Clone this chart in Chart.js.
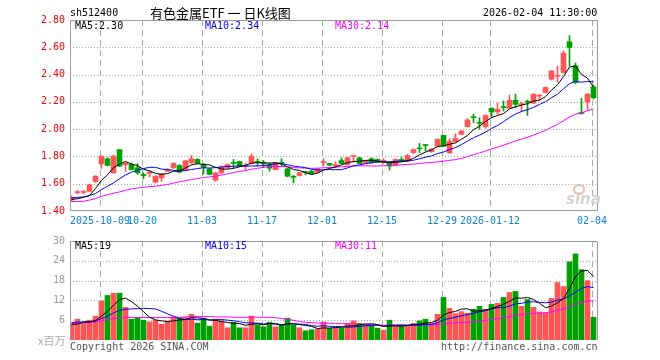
<!DOCTYPE html>
<html lang="zh-CN">
<head>
    <meta charset="UTF-8">
    <title>有色金属ETF 日K线图</title>
    <style>
        body {
            margin: 0;
            background: #fff;
        }

        #wrap {
            position: relative;
            width: 660px;
            height: 360px;
            overflow: hidden;
            font-family: "DejaVu Sans Mono", monospace;
            font-size: 10px;
            color: #000;
        }

        #wrap canvas {
            position: absolute;
            left: 0;
        }

        .txt {
            position: absolute;
            line-height: 12px;
            white-space: nowrap;
        }

        .title {
            font-family: "Noto Sans CJK SC", sans-serif;
            font-size: 13px;
            line-height: 16px;
        }

        .sina {
            font-family: "DejaVu Sans", sans-serif;
            font-style: italic;
            font-weight: bold;
            font-size: 15px;
            color: #d2d2d2;
            line-height: 16px;
        }
    </style>
</head>
<body>
    <div id="wrap">
        <canvas id="priceCanvas" width="660" height="232" style="top:0"></canvas>
        <canvas id="volCanvas" width="660" height="130" style="top:230px"></canvas>

        <div class="txt" style="left:70px;top:7px">sh512400</div>
        <div class="txt title" style="left:150px;top:5px">有色金属ETF 一 日K线图</div>
        <div class="txt" style="left:483px;top:7px">2026-02-04 11:30:00</div>

        <div class="txt" style="left:75px;top:20px">MA5:2.30</div>
        <div class="txt" style="left:205px;top:20px;color:#0000ff">MA10:2.34</div>
        <div class="txt" style="left:335px;top:20px;color:#ff00ff">MA30:2.14</div>

        <div class="txt sina" style="left:566px;top:191px">sina</div>
        <div style="position:absolute;left:573px;top:184px;width:8px;height:7px;border:2px solid #f2b8b8;border-radius:50%"></div>

        <div class="txt" style="left:75px;top:240px">MA5:19</div>
        <div class="txt" style="left:205px;top:240px;color:#0000ff">MA10:15</div>
        <div class="txt" style="left:335px;top:240px;color:#ff00ff">MA30:11</div>

        <div class="txt" style="left:38px;top:334px;color:#aaa;font-family:'Noto Sans CJK SC',sans-serif;font-size:11px">x百万</div>
        <div class="txt" style="left:70px;top:341px;color:#555">Copyright 2026 SINA.COM</div>
        <div class="txt" style="left:441px;top:341px;color:#555">http://finance.sina.com.cn</div>
    </div>

    <script src="https://cdn.jsdelivr.net/npm/chart.js"></script>
    <script>
        // daily candles, 2025-09-24 .. 2026-02-04 (88 trading days)
        const opens = [
            1.48, 1.535, 1.536, 1.545, 1.616, 1.746, 1.783, 1.68, 1.85, 1.74,
            1.741, 1.717, 1.665, 1.676, 1.611, 1.643, 1.692, 1.717, 1.734, 1.70,
            1.753, 1.778, 1.74, 1.709, 1.626, 1.68, 1.717, 1.75, 1.763, 1.73,
            1.749, 1.76, 1.75, 1.739, 1.704, 1.752, 1.709, 1.65, 1.66, 1.682,
            1.692, 1.685, 1.755, 1.748, 1.734, 1.77, 1.741, 1.80, 1.79, 1.753,
            1.783, 1.778, 1.764, 1.758, 1.734, 1.778, 1.766, 1.827, 1.857, 1.882,
            1.835, 1.876, 1.954, 1.827, 1.908, 1.962, 2.018, 2.086, 2.045, 2.018,
            2.153, 2.126, 2.16, 2.153, 2.211, 2.18, 2.20, 2.19, 2.242, 2.268,
            2.366, 2.388, 2.415, 2.64, 2.464, 2.12, 2.199, 2.31
        ];
        const highs = [
            1.51, 1.55, 1.55, 1.595, 1.66, 1.805, 1.79, 1.81, 1.85, 1.755,
            1.753, 1.748, 1.68, 1.692, 1.66, 1.675, 1.71, 1.755, 1.74, 1.77,
            1.807, 1.785, 1.75, 1.712, 1.685, 1.73, 1.745, 1.778, 1.766, 1.75,
            1.817, 1.782, 1.77, 1.753, 1.757, 1.783, 1.712, 1.66, 1.683, 1.692,
            1.70, 1.712, 1.783, 1.75, 1.76, 1.79, 1.795, 1.803, 1.795, 1.77,
            1.79, 1.782, 1.785, 1.76, 1.782, 1.795, 1.815, 1.855, 1.895, 1.888,
            1.856, 1.93, 1.955, 1.93, 1.967, 1.99, 2.077, 2.109, 2.084, 2.105,
            2.156, 2.19, 2.207, 2.25, 2.256, 2.199, 2.214, 2.26, 2.256, 2.31,
            2.43, 2.46, 2.574, 2.685, 2.484, 2.226, 2.262, 2.32
        ];
        const lows = [
            1.47, 1.525, 1.525, 1.54, 1.61, 1.712, 1.73, 1.675, 1.725, 1.69,
            1.70, 1.668, 1.635, 1.65, 1.605, 1.618, 1.69, 1.71, 1.68, 1.695,
            1.75, 1.745, 1.67, 1.665, 1.618, 1.675, 1.712, 1.717, 1.725, 1.70,
            1.745, 1.73, 1.717, 1.692, 1.70, 1.73, 1.65, 1.606, 1.655, 1.665,
            1.67, 1.68, 1.73, 1.73, 1.717, 1.745, 1.736, 1.758, 1.745, 1.75,
            1.75, 1.755, 1.75, 1.70, 1.73, 1.762, 1.762, 1.822, 1.827, 1.84,
            1.83, 1.87, 1.87, 1.82, 1.905, 1.958, 2.015, 2.048, 2.0, 2.006,
            2.09, 2.109, 2.133, 2.15, 2.158, 2.126, 2.10, 2.187, 2.207, 2.265,
            2.36, 2.346, 2.41, 2.464, 2.335, 2.11, 2.14, 2.22
        ];
        const closes = [
            1.50, 1.538, 1.54, 1.592, 1.655, 1.802, 1.734, 1.802, 1.729, 1.75,
            1.704, 1.68, 1.66, 1.68, 1.655, 1.672, 1.705, 1.748, 1.685, 1.768,
            1.783, 1.749, 1.72, 1.668, 1.68, 1.724, 1.741, 1.748, 1.729, 1.735,
            1.802, 1.757, 1.746, 1.714, 1.753, 1.75, 1.655, 1.647, 1.68, 1.68,
            1.675, 1.709, 1.758, 1.736, 1.737, 1.748, 1.79, 1.802, 1.748, 1.766,
            1.753, 1.758, 1.767, 1.729, 1.778, 1.766, 1.807, 1.85, 1.855, 1.88,
            1.852, 1.925, 1.876, 1.91, 1.932, 1.986, 2.067, 2.084, 2.043, 2.10,
            2.126, 2.145, 2.158, 2.211, 2.182, 2.184, 2.198, 2.256, 2.245, 2.305,
            2.427, 2.391, 2.557, 2.599, 2.342, 2.115, 2.256, 2.23
        ];

        // price moving averages as drawn on the chart
        const ma5 = [
            1.485, 1.49, 1.50, 1.513, 1.565, 1.625, 1.665, 1.717, 1.744, 1.763,
            1.744, 1.733, 1.705, 1.695, 1.676, 1.669, 1.674, 1.692, 1.693, 1.716,
            1.738, 1.747, 1.741, 1.738, 1.72, 1.708, 1.707, 1.712, 1.724, 1.735,
            1.751, 1.754, 1.754, 1.751, 1.754, 1.744, 1.724, 1.704, 1.697, 1.682,
            1.667, 1.678, 1.70, 1.712, 1.723, 1.738, 1.754, 1.763, 1.765, 1.771,
            1.772, 1.765, 1.758, 1.755, 1.757, 1.76, 1.769, 1.786, 1.811, 1.832,
            1.849, 1.872, 1.878, 1.889, 1.899, 1.926, 1.954, 1.996, 2.022, 2.056,
            2.084, 2.10, 2.114, 2.148, 2.164, 2.176, 2.187, 2.206, 2.213, 2.238,
            2.286, 2.325, 2.385, 2.456, 2.463, 2.401, 2.374, 2.308
        ];
        const ma10 = [
            1.496, 1.50, 1.503, 1.513, 1.528, 1.557, 1.582, 1.606, 1.636, 1.664,
            1.685, 1.699, 1.711, 1.720, 1.720, 1.707, 1.704, 1.698, 1.694, 1.696,
            1.704, 1.711, 1.717, 1.715, 1.718, 1.723, 1.727, 1.727, 1.731, 1.728,
            1.730, 1.730, 1.733, 1.738, 1.745, 1.748, 1.739, 1.729, 1.724, 1.718,
            1.706, 1.701, 1.702, 1.704, 1.703, 1.703, 1.716, 1.732, 1.738, 1.747,
            1.755, 1.760, 1.761, 1.760, 1.764, 1.766, 1.767, 1.772, 1.783, 1.794,
            1.804, 1.821, 1.832, 1.850, 1.865, 1.887, 1.913, 1.937, 1.956, 1.978,
            2.005, 2.027, 2.055, 2.085, 2.110, 2.130, 2.143, 2.160, 2.181, 2.201,
            2.231, 2.256, 2.296, 2.334, 2.350, 2.344, 2.349, 2.347
        ];
        const ma30 = [
            1.469, 1.470, 1.471, 1.480, 1.491, 1.508, 1.520, 1.530, 1.540, 1.551,
            1.562, 1.568, 1.574, 1.578, 1.582, 1.588, 1.594, 1.604, 1.614, 1.622,
            1.631, 1.638, 1.645, 1.650, 1.655, 1.664, 1.672, 1.682, 1.690, 1.696,
            1.706, 1.713, 1.720, 1.724, 1.727, 1.726, 1.723, 1.718, 1.716, 1.714,
            1.713, 1.714, 1.717, 1.719, 1.722, 1.724, 1.727, 1.729, 1.731, 1.731,
            1.730, 1.730, 1.732, 1.734, 1.737, 1.739, 1.741, 1.744, 1.748, 1.753,
            1.755, 1.760, 1.765, 1.771, 1.777, 1.785, 1.799, 1.813, 1.826, 1.840,
            1.855, 1.869, 1.882, 1.898, 1.913, 1.928, 1.941, 1.956, 1.973, 1.991,
            2.013, 2.035, 2.061, 2.090, 2.109, 2.120, 2.135, 2.148
        ];

        // volume, millions
        const volumes = [
            4.8, 6.3, 5.0, 6.0, 7.2, 11.8, 13.5, 14.2, 14.2, 9.9,
            6.3, 6.7, 6.0, 5.5, 6.0, 4.8, 5.7, 7.0, 6.8, 6.8,
            7.8, 5.1, 6.5, 4.2, 6.3, 5.8, 3.7, 5.4, 3.7, 3.7,
            7.2, 4.6, 4.0, 5.4, 4.0, 4.5, 6.6, 4.5, 3.7, 2.8,
            3.1, 3.3, 5.4, 3.5, 3.6, 3.7, 5.0, 5.8, 5.0, 4.6,
            4.3, 3.6, 3.0, 6.0, 4.3, 4.3, 4.3, 5.0, 5.8, 6.3,
            5.0, 7.8, 12.9, 9.6, 8.0, 8.6, 8.1, 9.3, 10.2, 9.3,
            10.8, 11.1, 12.9, 14.4, 14.7, 10.2, 12.3, 9.9, 8.5, 8.1,
            12.6, 17.4, 16.2, 23.7, 26.1, 21.3, 18.0, 6.9
        ];
        const volMa5 = [
            4.7, 4.8, 5.4, 5.5, 5.86, 7.26, 8.70, 10.54, 12.18, 12.72,
            11.62, 10.26, 8.62, 6.88, 6.10, 5.80, 5.60, 5.80, 6.06, 6.22,
            6.82, 6.70, 6.60, 6.08, 5.98, 5.58, 5.30, 5.08, 4.98, 4.46,
            4.74, 4.92, 4.64, 4.98, 5.04, 4.50, 4.90, 5.00, 4.66, 4.42,
            4.14, 3.48, 3.66, 3.62, 3.78, 3.90, 4.24, 4.32, 4.62, 4.82,
            4.94, 4.66, 4.10, 4.30, 4.24, 4.24, 4.38, 4.78, 4.74, 5.14,
            5.28, 5.98, 7.56, 8.32, 8.66, 9.38, 9.44, 8.72, 8.84, 9.10,
            9.54, 10.14, 10.86, 11.70, 12.78, 12.66, 12.90, 12.30, 11.12, 9.80,
            10.28, 11.30, 12.56, 15.60, 19.20, 20.94, 21.06, 19.20
        ];
        const volMa10 = [
            5.3, 5.4, 5.5, 5.5, 5.8, 6.5, 7.2, 8.2, 9.0, 9.29,
            9.44, 9.48, 9.58, 9.53, 9.41, 8.71, 7.93, 7.21, 6.47, 6.16,
            6.31, 6.15, 6.20, 6.07, 6.10, 6.20, 6.00, 5.84, 5.53, 5.22,
            5.16, 5.11, 4.86, 4.98, 4.75, 4.62, 4.91, 4.82, 4.82, 4.73,
            4.32, 4.19, 4.33, 4.14, 4.10, 4.02, 3.86, 3.99, 4.12, 4.30,
            4.42, 4.45, 4.21, 4.46, 4.53, 4.59, 4.52, 4.44, 4.52, 4.69,
            4.76, 5.18, 6.17, 6.53, 6.90, 7.33, 7.71, 8.14, 8.58, 8.88,
            9.46, 9.79, 9.79, 10.27, 10.94, 11.10, 11.52, 11.58, 11.41, 11.29,
            11.47, 12.10, 12.43, 13.36, 14.50, 15.61, 16.18, 15.88
        ];
        const volMa30 = [
            5.0, 5.1, 5.2, 5.3, 5.5, 5.8, 6.2, 6.5, 6.7, 6.8,
            6.8, 6.8, 6.8, 6.8, 6.8, 6.8, 6.8, 6.8, 6.9, 7.0,
            7.1, 7.1, 7.1, 7.1, 7.0, 7.0, 7.0, 6.9, 6.9, 6.89,
            6.97, 6.91, 6.88, 6.86, 6.75, 6.51, 6.28, 5.96, 5.61, 5.37,
            5.26, 5.15, 5.13, 5.06, 4.98, 4.95, 4.92, 4.88, 4.82, 4.75,
            4.63, 4.58, 4.47, 4.53, 4.46, 4.41, 4.43, 4.42, 4.49, 4.57,
            4.50, 4.61, 4.90, 5.04, 5.18, 5.31, 5.36, 5.52, 5.74, 5.96,
            6.21, 6.47, 6.72, 7.09, 7.46, 7.67, 7.92, 8.05, 8.17, 8.29,
            8.56, 9.02, 9.46, 10.05, 10.78, 11.35, 11.80, 11.87
        ];

        // date ticks: candle index and label
        const tickIndex = [5, 12, 22, 32, 42, 52, 62, 70, 87];
        const tickLabels = ["2025-10-09", "10-20", "11-03", "11-17", "12-01", "12-15", "12-29", "2026-01-12", "02-04"];

        const RED = "#ff5555";
        const GREEN = "#00a000";
        const monoFont = { family: "DejaVu Sans Mono", size: 10 };

        const isUp = i => closes[i] >= opens[i];
        const candleColor = ctx => isUp(ctx.dataIndex) ? RED : GREEN;
        const points = arr => arr.map((v, i) => ({ x: i, y: v }));

        // dotted price lines and dashed date lines, under the data
        const gridPlugin = {
            id: "gridLines",
            beforeDatasetsDraw(chart) {
                const { ctx, chartArea: a, scales } = chart;
                ctx.save();
                ctx.strokeStyle = "#aaa";
                ctx.lineWidth = 1;
                ctx.setLineDash([1, 2]);
                scales.y.ticks.forEach(t => {
                    const y = Math.round(scales.y.getPixelForValue(t.value)) + 0.5;
                    if (y < a.top + 2 || y > a.bottom - 2) return;
                    ctx.beginPath();
                    ctx.moveTo(a.left, y);
                    ctx.lineTo(a.right, y);
                    ctx.stroke();
                });
                ctx.setLineDash([6, 4]);
                scales.x.ticks.forEach(t => {
                    const x = Math.round(scales.x.getPixelForValue(t.value)) + 0.5;
                    ctx.beginPath();
                    ctx.moveTo(x, a.top);
                    ctx.lineTo(x, a.bottom);
                    ctx.stroke();
                });
                ctx.restore();
            }
        };

        // draws the grey frame round the plot area
        function framePlugin(sides) {
            return {
                id: "frame",
                afterDraw(chart) {
                    const { ctx, chartArea: a } = chart;
                    const l = a.left + 0.5, r = a.right - 0.5, t = a.top + 0.5, b = a.bottom - 0.5;
                    ctx.save();
                    ctx.strokeStyle = "#999";
                    ctx.lineWidth = 1;
                    ctx.beginPath();
                    ctx.moveTo(l, b);
                    ctx.lineTo(l, t);
                    ctx.lineTo(r, t);
                    ctx.lineTo(r, b);
                    if (sides === "all") ctx.lineTo(l, b);
                    ctx.stroke();
                    ctx.restore();
                }
            };
        }

        function xAxis(showLabels, height) {
            return {
                type: "linear",
                min: -0.25,
                max: 87.75,
                offset: false,
                afterBuildTicks: axis => {
                    axis.ticks = tickIndex.map(v => ({ value: v - 0.25 }));
                },
                afterFit: scale => { scale.height = height; },
                grid: { display: false, drawTicks: false, offset: false },
                border: { display: false },
                ticks: {
                    display: showLabels,
                    autoSkip: false,
                    maxRotation: 0,
                    padding: 4,
                    color: "#0b84d8",
                    font: monoFont,
                    callback: v => tickLabels[tickIndex.indexOf(Math.round(v + 0.25))] || ""
                }
            };
        }

        function maLine(data, color) {
            return {
                type: "line",
                data: points(data),
                borderColor: color,
                borderWidth: 1,
                pointRadius: 0,
                tension: 0,
                order: 0
            };
        }

        // price chart
        new Chart(document.getElementById("priceCanvas"), {
            type: "bar",
            data: {
                datasets: [
                    maLine(ma5, "#000000"),
                    maLine(ma10, "#0000ff"),
                    maLine(ma30, "#ff00ff"),
                    {
                        data: opens.map((o, i) => ({ x: i, y: [o, closes[i]] })),
                        backgroundColor: candleColor,
                        barThickness: 5,
                        minBarLength: 1,
                        grouped: false,
                        order: 1
                    },
                    {
                        data: lows.map((l, i) => ({ x: i, y: [l, highs[i]] })),
                        backgroundColor: candleColor,
                        barThickness: 1,
                        grouped: false,
                        order: 2
                    }
                ]
            },
            options: {
                responsive: false,
                animation: false,
                events: [],
                layout: { padding: { top: 20, right: 62, left: 0, bottom: 0 } },
                plugins: { legend: { display: false }, tooltip: { enabled: false } },
                scales: {
                    x: xAxis(true, 21),
                    y: {
                        min: 1.4,
                        max: 2.8,
                        afterFit: scale => { scale.width = 70; },
                        grid: { display: false, drawTicks: false },
                        border: { display: false },
                        ticks: {
                            stepSize: 0.2,
                            padding: 5,
                            color: "#ff0000",
                            font: monoFont,
                            callback: v => v.toFixed(2)
                        }
                    }
                }
            },
            plugins: [gridPlugin, framePlugin("all")]
        });

        // volume chart
        new Chart(document.getElementById("volCanvas"), {
            type: "bar",
            data: {
                datasets: [
                    maLine(volMa5, "#000000"),
                    maLine(volMa10, "#0000ff"),
                    maLine(volMa30, "#ff00ff"),
                    {
                        data: points(volumes),
                        backgroundColor: candleColor,
                        barThickness: 5,
                        grouped: false,
                        order: 1
                    }
                ]
            },
            options: {
                responsive: false,
                animation: false,
                events: [],
                layout: { padding: { top: 10, right: 62, left: 0, bottom: 0 } },
                plugins: { legend: { display: false }, tooltip: { enabled: false } },
                scales: {
                    x: xAxis(false, 20),
                    y: {
                        min: 0,
                        max: 30,
                        afterFit: scale => { scale.width = 70; },
                        grid: { display: false, drawTicks: false },
                        border: { display: false },
                        ticks: {
                            stepSize: 6,
                            padding: 5,
                            color: "#999",
                            font: monoFont,
                            callback: v => v === 0 ? "" : String(v)
                        }
                    }
                }
            },
            plugins: [gridPlugin, framePlugin("open")]
        });
    </script>
</body>
</html>
